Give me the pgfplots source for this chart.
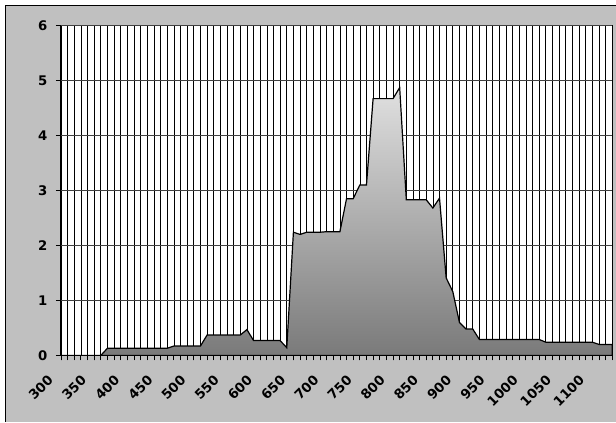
\documentclass[border=0pt]{standalone}
\usepackage{pgfplots}
\pgfplotsset{compat=1.18}
\usepackage{fontspec}
\setmainfont{DejaVu Sans}
\definecolor{bg}{RGB}{192,192,192}
\definecolor{areatop}{RGB}{224,224,224}
\definecolor{areabot}{RGB}{122,122,122}
\definecolor{hgrid}{RGB}{64,64,64}
\begin{document}
\begin{tikzpicture}
\fill[white] (0bp,0bp) rectangle (616bp,422bp);
\fill[bg] (5.5bp,0bp) rectangle (616bp,416.5bp);
\draw[black, line width=1bp] (5.5bp,0bp) -- (5.5bp,416.5bp) -- (616bp,416.5bp);
\begin{axis}[
  at={(61bp,66.3bp)}, anchor=south west,
  width=551.7bp, height=330.2bp, scale only axis,
  xmin=300, xmax=1130, ymin=0, ymax=6,
  axis background/.style={fill=white},
  axis x line*=bottom, axis y line*=left,
  axis line style={black, line width=1bp, -},
  xtick={300,350,...,1100},
  minor xtick={300,310,...,1130},
  ytick={0,1,2,3,4,5,6},
  xminorgrids=true, ymajorgrids=true, xmajorgrids=false,
  minor grid style={black, line width=0.65bp},
  major grid style={hgrid, line width=1bp},
  tick align=outside,
  major tick length=5bp, minor tick length=5bp,
  tick style={black, line width=0.8bp},
  /pgf/number format/assume math mode=true,
  /pgf/number format/1000 sep={},
  ticklabel style={font=\bfseries\fontsize{13.3}{15}\selectfont},
  xticklabel style={xshift=-14bp, yshift=-9bp, rotate=45, anchor=north east},
  yticklabel style={xshift=-5bp},
]
\addplot[draw=black, line width=1.2bp, top color=areatop, bottom color=areabot] table {
x y
300 0
310 0
320 0
330 0
340 0
350 0
360 0
370 0.13
380 0.13
390 0.13
400 0.13
410 0.13
420 0.13
430 0.13
440 0.13
450 0.13
460 0.13
470 0.17
480 0.17
490 0.17
500 0.17
510 0.17
520 0.37
530 0.37
540 0.37
550 0.37
560 0.37
570 0.37
580 0.47
590 0.27
600 0.27
610 0.27
620 0.27
630 0.27
640 0.14
650 2.24
660 2.20
670 2.24
680 2.24
690 2.24
700 2.25
710 2.25
720 2.25
730 2.85
740 2.85
750 3.10
760 3.10
770 4.67
780 4.67
790 4.67
800 4.67
810 4.87
820 2.83
830 2.83
840 2.83
850 2.83
860 2.68
870 2.86
880 1.41
890 1.16
900 0.60
910 0.48
920 0.48
930 0.29
940 0.29
950 0.29
960 0.29
970 0.29
980 0.29
990 0.29
1000 0.29
1010 0.29
1020 0.29
1030 0.24
1040 0.24
1050 0.24
1060 0.24
1070 0.24
1080 0.24
1090 0.24
1100 0.24
1110 0.20
1120 0.20
1130 0.20
} \closedcycle;
\end{axis}
\useasboundingbox (0bp,0bp) rectangle (616bp,422bp);
\end{tikzpicture}
\end{document}
